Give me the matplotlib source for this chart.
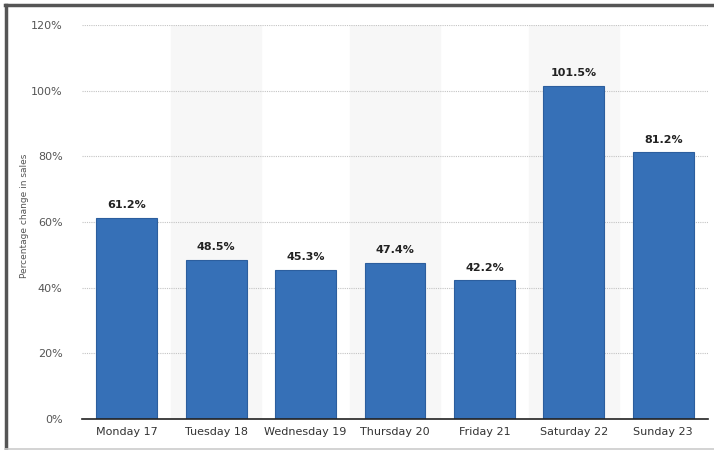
import matplotlib.pyplot as plt
from matplotlib.lines import Line2D

days = ["Monday 17", "Tuesday 18", "Wednesday 19", "Thursday 20",
        "Friday 21", "Saturday 22", "Sunday 23"]
change = [61.2, 48.5, 45.3, 47.4, 42.2, 101.5, 81.2]
yticks = [0, 20, 40, 60, 80, 100, 120]

fig = plt.figure(figsize=(7.14, 4.5), dpi=100)
ax = fig.add_axes([0.1148, 0.0689, 0.8768, 0.8755])

x = range(len(days))
# alternate shaded bands
for i in x:
    if i % 2 == 1:
        ax.axvspan(i - 0.5, i + 0.5, ymax=1.0, color="#f7f7f7", zorder=0)

bars = ax.bar(x, change, width=0.68, color="#3670b7", edgecolor="#2c5e9e",
              linewidth=0.8, zorder=3)
for b, v in zip(bars, change):
    ax.text(b.get_x() + b.get_width() / 2, v + 2.4, f"{v:.1f}%",
            ha="center", va="bottom", fontsize=8, fontweight="bold",
            color="#222222", zorder=4)

ax.set_xlim(-0.5, 6.5)
ax.set_ylim(0, 120)
ax.set_yticks(yticks)
ax.set_yticklabels([f"{t}%" for t in yticks])
ax.set_xticks(list(x))
ax.set_xticklabels(days)
ax.tick_params(axis="y", length=0, pad=14, labelsize=8, labelcolor="#555555")
ax.tick_params(axis="x", length=0, pad=6, labelsize=8, labelcolor="#333333")
ax.grid(axis="y", linestyle=(0, (1, 1)), color="#c4c4c4", linewidth=0.8, zorder=1)
ax.set_axisbelow(True)
for s in ["top", "right", "left"]:
    ax.spines[s].set_visible(False)
ax.spines["bottom"].set_color("#222222")
ax.spines["bottom"].set_linewidth(1.2)
ax.spines["bottom"].set_zorder(5)

fig.text(0.035, 0.52, "Percentage change in sales", rotation=90,
         ha="center", va="center", fontsize=6.5, color="#555555")

# frame around the screenshot
fig.add_artist(Line2D([0.008, 0.008], [0.0, 0.99], color="#555555", linewidth=2.5,
                      transform=fig.transFigure))
fig.add_artist(Line2D([0.007, 1.0], [0.99, 0.99], color="#555555", linewidth=2.5,
                      transform=fig.transFigure))
fig.add_artist(Line2D([0.007, 1.0], [0.002, 0.002], color="#cccccc", linewidth=1.2,
                      transform=fig.transFigure))

fig.savefig("out.png", dpi=100)
